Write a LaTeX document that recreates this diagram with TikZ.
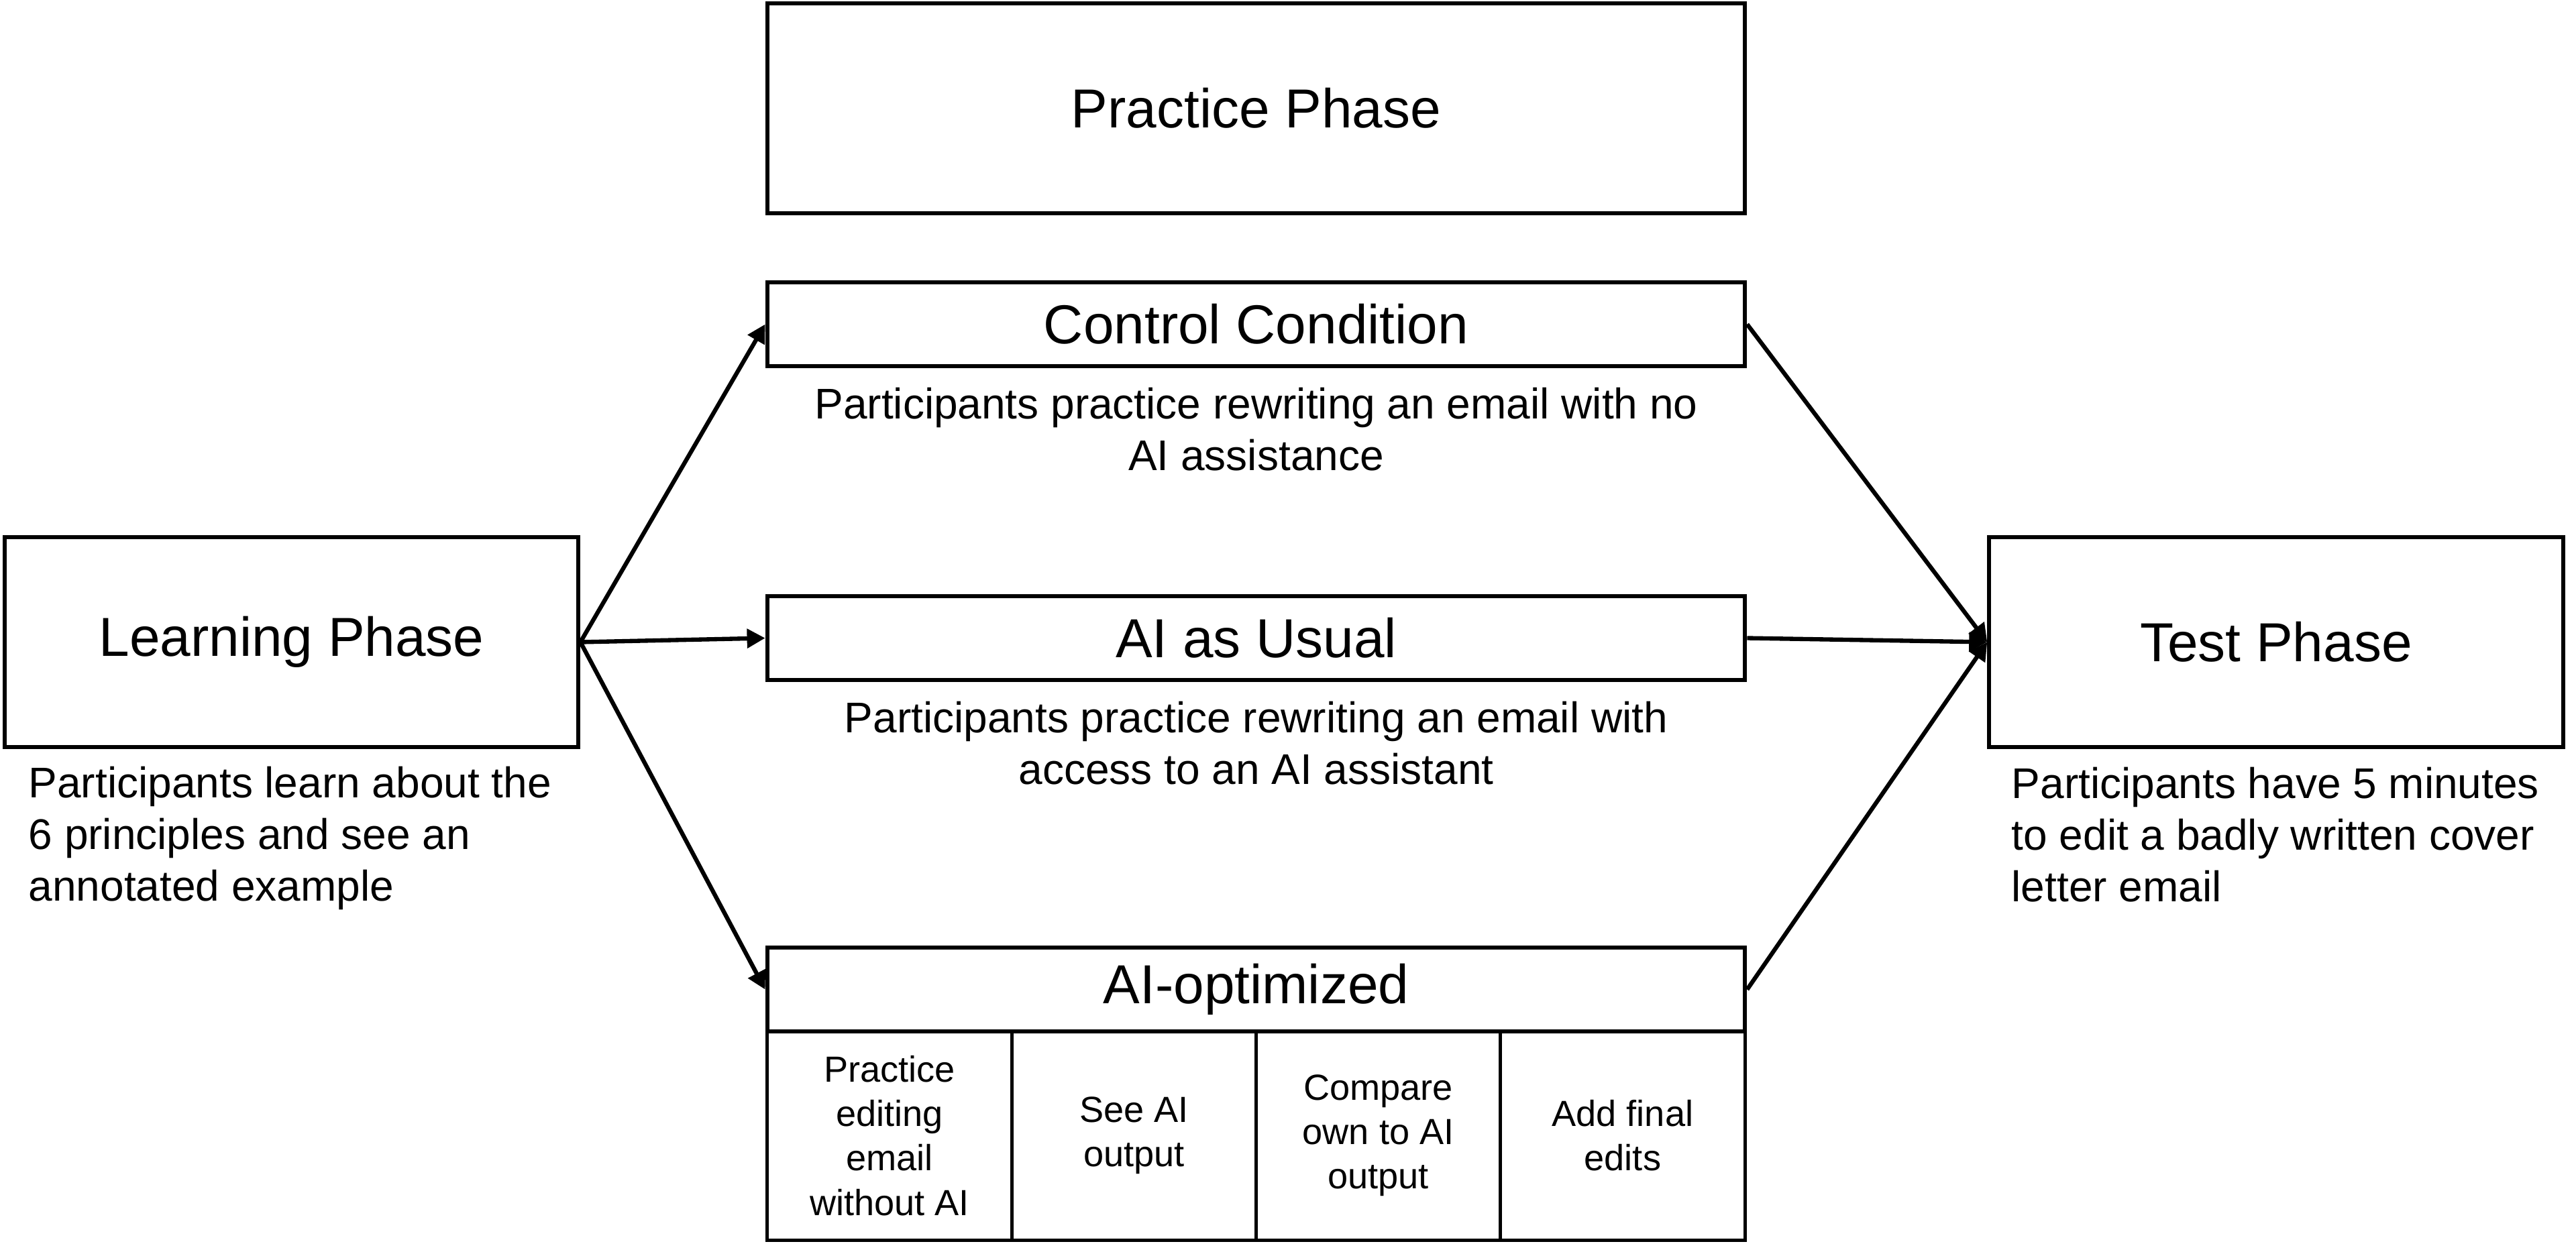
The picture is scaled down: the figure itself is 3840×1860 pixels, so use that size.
\documentclass[tikz,border=0pt]{standalone}
\usepackage{fontspec}
\setmainfont{Liberation Sans}
\usetikzlibrary{arrows.meta}
\begin{document}
\begin{tikzpicture}[x=0.01cm,y=-0.01cm,
  box/.style={draw,line width=1.7pt,inner sep=0pt,font=\fontsize{23.3}{28}\selectfont},
  wide/.style={box,minimum width=14.57cm,minimum height=1.25cm},
  phase/.style={box,minimum width=8.55cm,minimum height=3.13cm},
  desc/.style={align=center,inner sep=0pt,font=\fontsize{18.2}{21.9}\selectfont},
  subbox/.style={draw,line width=1.4pt,inner sep=0pt,align=center,minimum width=3.6425cm,minimum height=3.11cm,font=\fontsize{15.4}{18.8}\selectfont},
  arr/.style={line width=1.8pt,-{Triangle[length=0.27cm,width=0.28cm]}}]
\useasboundingbox (0,0) rectangle (3840,1860);
\node[box,minimum width=14.57cm,minimum height=3.13cm] (practice) at (1872.5,161.5) {Practice Phase};
\node[wide] (control) at (1872.5,483.5) {Control Condition};
\node[desc] (controld) at (1872.5,640) {Participants practice rewriting an email with no\\AI assistance};
\node[wide] (usual) at (1872.5,951.5) {AI as Usual};
\node[desc] (usuald) at (1872.5,1108) {Participants practice rewriting an email with\\access to an AI assistant};
\node[wide] (opt) at (1872.5,1475.5) {AI-optimized};
\node[subbox] (s1) at (1326.1,1693.5) {Practice\\editing\\email\\without AI};
\node[subbox] (s2) at (1690.4,1693.5) {See AI\\output};
\node[subbox] (s3) at (2054.6,1693.5) {Compare\\own to AI\\output};
\node[subbox] (s4) at (2418.9,1693.5) {Add final\\edits};
\node[phase] (learn) at (434.5,957.5) {\raisebox{-0.08cm}{Learning Phase}};
\node[desc,align=left,anchor=west] (learnd) at (42,1250) {Participants learn about the\\6 principles and see an\\annotated example};
\node[phase] (test) at (3393,957.5) {Test Phase};
\node[desc,align=left,anchor=west] (testd) at (2998,1245) {Participants have 5 minutes\\to edit a badly written cover\\letter email};
\draw[arr] (learn.east) -- (control.west);
\draw[arr] (learn.east) -- (usual.west);
\draw[arr] (learn.east) -- (opt.west);
\draw[arr] (control.east) -- (test.west);
\draw[arr] (usual.east) -- (test.west);
\draw[arr] (opt.east) -- (test.west);
\end{tikzpicture}
\end{document}
